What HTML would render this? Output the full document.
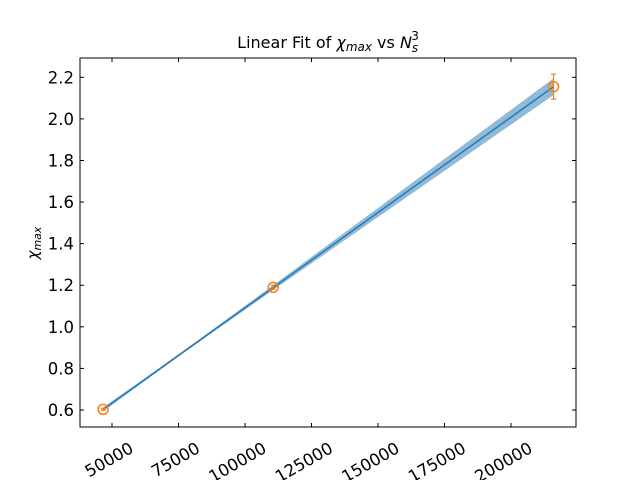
<!DOCTYPE html>
<html><head><meta charset="utf-8"><style>
body{margin:0;background:#fff;font-family:"DejaVu Sans","Liberation Sans",sans-serif;}
svg text{font-family:"DejaVu Sans","Liberation Sans",sans-serif;}
</style></head><body>
<svg id="chart" width="640" height="480" xmlns="http://www.w3.org/2000/svg"></svg>
<script>
const xValues = [46656, 110592, 216000];
const yValues = [0.603, 1.19, 2.155];
const yErrors = [0.005, 0.01, 0.06];
const fitSlope = [9.165e-6];
const fitIntercept = [0.175];
const fitSlopeErr = [2.8e-7];
const fitInterceptErr = [0.006];
const xTicks = [50000, 75000, 100000, 125000, 150000, 175000, 200000];
const yTicks = [0.6, 0.8, 1.0, 1.2, 1.4, 1.6, 1.8, 2.0, 2.2];

const NS = "http://www.w3.org/2000/svg";
const svg = document.getElementById('chart');
const L=80, R=576, T=58, B=427;
const X = v => 112 + (v-50000)*(511-112)/150000;
const Y = v => 410 - (v-0.6)*(410-77.3)/1.6;
function el(tag, attrs, parent){const e=document.createElementNS(NS,tag);for(const k in attrs)e.setAttribute(k,attrs[k]);(parent||svg).appendChild(e);return e;}

const x0=75000;
const xs=[];const N=60;
for(let i=0;i<=N;i++) xs.push(xValues[0]+(xValues[xValues.length-1]-xValues[0])*i/N);
const hw = x => Math.sqrt(fitInterceptErr[0]**2 + ((x-x0)*fitSlopeErr[0])**2);
const fy = x => fitIntercept[0]+fitSlope[0]*x;
let d='';
xs.forEach((x,i)=>{d+=(i?'L':'M')+X(x).toFixed(2)+','+Y(fy(x)+hw(x)).toFixed(2);});
for(let i=xs.length-1;i>=0;i--){const x=xs[i];d+='L'+X(x).toFixed(2)+','+Y(fy(x)-hw(x)).toFixed(2);}
d+='Z';
const band=el('path',{d:d,fill:'#1f77b4','fill-opacity':0.5,stroke:'none'});


const fit=el('line',{x1:X(xs[0]),y1:Y(fy(xs[0])),x2:X(xs[N]),y2:Y(fy(xs[N])),stroke:'#1f77b4','stroke-width':1.4});



xValues.forEach((xv,i)=>{
  const g=el('g',{});
  
  
  const cx=X(xv), cy=Y(yValues[i]);
  const yt=Y(yValues[i]+yErrors[i]), yb=Y(yValues[i]-yErrors[i]);
  el('line',{x1:cx,y1:yt,x2:cx,y2:yb,stroke:'#ff7f0e','stroke-width':1.2},g);
  el('line',{x1:cx-2.5,y1:yt,x2:cx+2.5,y2:yt,stroke:'#ff7f0e','stroke-width':1.2},g);
  el('line',{x1:cx-2.5,y1:yb,x2:cx+2.5,y2:yb,stroke:'#ff7f0e','stroke-width':1.2},g);
  el('circle',{cx:cx,cy:cy,r:5,fill:'none',stroke:'#ff7f0e','stroke-width':1.5},g);
});

const fr=el('rect',{x:L,y:T,width:R-L,height:B-T,fill:'none',stroke:'#000','stroke-width':1});



xTicks.forEach(t=>{
  const x=X(t);
  el('line',{x1:x,y1:B,x2:x,y2:B-4,stroke:'#000'});
  el('line',{x1:x,y1:T,x2:x,y2:T+4,stroke:'#000'});
  const tx=el('text',{x:0,y:0,'font-size':16.5,'text-anchor':'end',transform:`translate(${x+16},${B+13}) rotate(-30)`,dy:'0.8em'});
  tx.textContent=t;
  
  
});
yTicks.forEach(t=>{
  const y=Y(t);
  el('line',{x1:L,y1:y,x2:L+4,y2:y,stroke:'#000'});
  el('line',{x1:R,y1:y,x2:R-4,y2:y,stroke:'#000'});
  const tx=el('text',{x:L-6,y:y+6,'font-size':16.5,'text-anchor':'end'});
  tx.textContent=t.toFixed(1);
  
  
});
</script>
<svg width="640" height="480" style="position:absolute;left:0;top:0" xmlns="http://www.w3.org/2000/svg">
<text x="328" y="48" font-size="16" text-anchor="middle" font-family="DejaVu Sans,sans-serif">Linear Fit of <tspan font-style="italic">χ</tspan><tspan font-style="italic" font-size="12" dy="3">max</tspan><tspan dy="-3"> vs </tspan><tspan font-style="italic">N</tspan><tspan font-style="italic" font-size="12" dy="4">s</tspan><tspan font-size="12" dx="-7" dy="-12">3</tspan></text>
<text transform="translate(38,243) rotate(-90)" font-size="15" text-anchor="middle" font-family="DejaVu Sans,sans-serif"><tspan font-style="italic">χ</tspan><tspan font-style="italic" font-size="11" dy="3">max</tspan></text>
</svg>
</body></html>
